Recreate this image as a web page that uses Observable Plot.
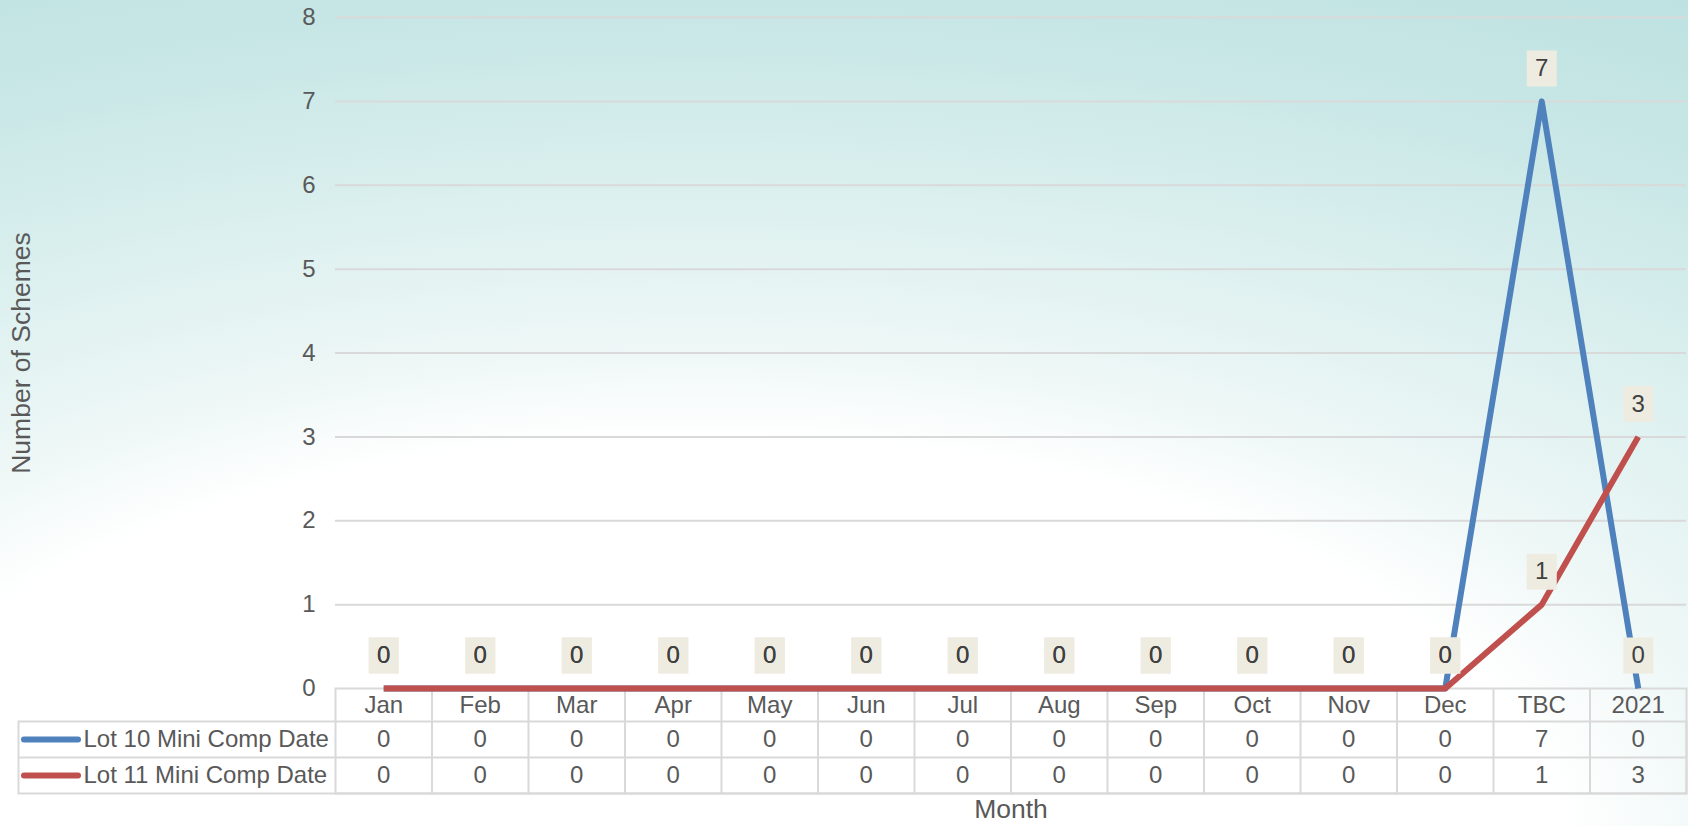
<!DOCTYPE html>
<html>
<head>
<meta charset="utf-8">
<script src="https://cdn.jsdelivr.net/npm/d3@7"></script>
<script src="https://cdn.jsdelivr.net/npm/@observablehq/plot@0.6"></script>
<style>
  html, body { margin: 0; padding: 0; }
  #chart {
    width: 1688px; height: 826px; overflow: hidden;
    background: radial-gradient(ellipse 1565px 750px at 700px 850px, #ffffff 0%, #ffffff 55%, #edf7f6 68%, #d9efee 90%, #c8e7e6 110%, #bde2e1 130%);
  }
  #chart svg { display: block; }
</style>
</head>
<body>
<div id="chart"></div>
<script>
const months = ["Jan","Feb","Mar","Apr","May","Jun","Jul","Aug","Sep","Oct","Nov","Dec","TBC","2021"];
const lot10 = [0,0,0,0,0,0,0,0,0,0,0,0,7,0];
const lot11 = [0,0,0,0,0,0,0,0,0,0,0,0,1,3];
const seriesNames = ["Lot 10 Mini Comp Date", "Lot 11 Mini Comp Date"];
const seriesColors = ["#4F81BD", "#C0504D"];
const seriesValues = [lot10, lot11];
const yTicks = [0,1,2,3,4,5,6,7,8];
const yLabel = "Number of Schemes";
const xLabel = "Month";

const W = 1688, H = 826, ML = 335, MR = 2, MT = 17, MB = 138;
const step = (W - ML - MR) / months.length;
const frameH = H - MT - MB;
const rowH = [33, 36, 36];
const tableLeft = 18;
const gridColor = "#D9D9D9";
const textColor = "#595959";
const titleSize = 26.5;

const data = seriesNames.flatMap((s, k) => months.map((m, i) => ({month: m, value: seriesValues[k][i], series: s})));

const boxSymbol = { draw(ctx) { ctx.rect(-15, -18, 30, 36); } };

const headerMid = rowH[0] / 2;
const row1Mid = rowH[0] + rowH[1] / 2;
const row2Mid = rowH[0] + rowH[1] + rowH[2] / 2;
const tableBottom = rowH[0] + rowH[1] + rowH[2];

const legendMarks = seriesNames.flatMap((s, k) => {
  const mid = k === 0 ? row1Mid : row2Mid;
  return [
    Plot.ruleY([0], {dy: mid, insetLeft: -(ML - 24), insetRight: (W - MR) - 78, stroke: seriesColors[k], strokeWidth: 6, strokeLinecap: "round"}),
    Plot.text([s], {frameAnchor: "bottom-left", dx: -(ML - 83), dy: mid, textAnchor: "start", lineAnchor: "middle", fill: textColor}),
    Plot.text(seriesValues[k], {x: (d, i) => months[i], text: d => String(d), frameAnchor: "bottom", lineAnchor: "middle", dy: mid, fill: textColor})
  ];
});

const chart = Plot.plot({
  width: W, height: H,
  marginLeft: ML, marginRight: MR, marginTop: MT, marginBottom: MB,
  style: {background: "transparent", fontFamily: "'Liberation Sans', Arial, sans-serif", fontSize: "24px", color: textColor, overflow: "visible"},
  x: {type: "point", domain: months, padding: 0.5, round: false, axis: null},
  y: {domain: [0, 8], axis: null},
  color: {domain: seriesNames, range: seriesColors},
  marks: [
    Plot.ruleY(yTicks.filter(d => d > 0), {stroke: gridColor, strokeWidth: 2}),
    Plot.axisY(yTicks, {tickSize: 0, tickPadding: 20, label: null, tickFormat: d => String(d), fill: textColor}),
    Plot.text([yLabel], {frameAnchor: "left", dx: -(ML - 21), rotate: -90, textAnchor: "middle", lineAnchor: "middle", fill: textColor, fontSize: titleSize}),
    // table borders
    Plot.frame({stroke: gridColor, strokeWidth: 2, insetTop: frameH, insetBottom: -tableBottom}),
    Plot.frame({stroke: gridColor, strokeWidth: 2, insetTop: frameH + rowH[0], insetBottom: -tableBottom, insetLeft: -(ML - tableLeft)}),
    Plot.ruleY([0], {dy: rowH[0] + rowH[1], insetLeft: -(ML - tableLeft), stroke: gridColor, strokeWidth: 2}),
    Plot.ruleX(months.slice(0, -1), {x: d => d, dx: step / 2, insetTop: frameH, insetBottom: -tableBottom, stroke: gridColor, strokeWidth: 2}),
    // header labels
    Plot.text(months, {x: d => d, frameAnchor: "bottom", lineAnchor: "middle", dy: headerMid, fill: textColor}),
    ...legendMarks,
    Plot.text([xLabel], {frameAnchor: "bottom", lineAnchor: "middle", dy: 121, fill: textColor, fontSize: titleSize}),
    // lines
    Plot.line(data, {x: "month", y: "value", stroke: "series", z: "series", strokeWidth: 6, strokeLinejoin: "round", strokeLinecap: "butt"}),
    // data labels
    Plot.dot(data, {x: "month", y: "value", dy: -33, symbol: boxSymbol, fill: "#EEECE1", stroke: null, r: 10}),
    Plot.text(data, {x: "month", y: "value", text: d => String(d.value), dy: -33, fill: "#404040"})
  ]
});

document.getElementById("chart").appendChild(chart);
</script>
</body>
</html>
